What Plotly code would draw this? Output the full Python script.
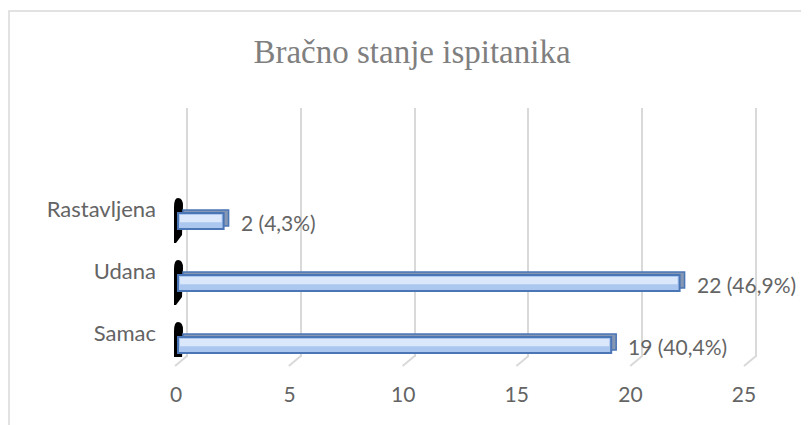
import plotly.graph_objects as go

# ---- data ----
categories = ["Samac", "Udana", "Rastavljena"]
counts = [19, 22, 2]
percents = ["40,4%", "46,9%", "4,3%"]
x_ticks = [0, 5, 10, 15, 20, 25]
title_text = "Bračno stanje ispitanika"

# ---- geometry / style (reference pixel positions) ----
OFF = 8                      # default page body margin
W, H = 809 - OFF, 425 - OFF  # figure size that fits the window
grid_x0_px, grid_px_per = 187, 22.76      # back (gridline) plane
front_x0_px, front_px_per = 176, 22.72    # front plane (tick labels)
bar_x0_px, bar_px_per = 178, 22.8         # bars
plot_top_px, plot_bot_px = 108, 357
row_px = 62
first_row_px = 345
label_shift_px = 11.5

def fx(px):
    return px - OFF

def fy(py):
    return py - OFF

def xrange(x0, per):
    return [-fx(x0) / per, (W - fx(x0)) / per]

plot_h = plot_bot_px - plot_top_px
y_r0 = -(plot_bot_px - first_row_px) / row_px
y_r1 = y_r0 + plot_h / row_px
lab_shift = label_shift_px / row_px

idx = list(range(len(categories)))
bar_w = 16 / row_px
depth_x = 5 / bar_px_per
depth_y = 3 / row_px
ins = 2 / bar_px_per

font_fam = "Lato, 'Open Sans', sans-serif"
txt_col = "#646464"
grid_col = "#d9d9d9"
edge_col = "#4a76b6"

fig = go.Figure()

# back face of 3D bars (gives top and side faces)
fig.add_trace(go.Bar(
    orientation="h", x=counts, y=idx, base=depth_x,
    width=bar_w, offset=-bar_w / 2 + depth_y,
    marker=dict(color="#8597b3", line=dict(color=edge_col, width=1.5)),
    xaxis="x3", yaxis="y", showlegend=False, hoverinfo="skip"))
# front face
fig.add_trace(go.Bar(
    orientation="h", x=counts, y=idx,
    width=bar_w, offset=-bar_w / 2,
    marker=dict(color="#abc7ef", line=dict(color=edge_col, width=2)),
    xaxis="x3", yaxis="y", showlegend=False, hoverinfo="skip"))
# highlight band (gradient look)
fig.add_trace(go.Bar(
    orientation="h", x=[c - 2 * ins for c in counts], y=idx, base=ins,
    width=bar_w * 0.45, offset=-bar_w / 2 + bar_w * 0.42,
    marker=dict(color="#dbe8fb", line=dict(width=0)),
    xaxis="x3", yaxis="y", showlegend=False, hoverinfo="skip"))

# dummy traces so that label axes are drawn
fig.add_trace(go.Scatter(x=[None], y=[None], xaxis="x2", yaxis="y",
                         showlegend=False, hoverinfo="skip"))
fig.add_trace(go.Scatter(x=[None], y=[None], xaxis="x", yaxis="y2",
                         showlegend=False, hoverinfo="skip"))

shapes = []
# outer chart border
shapes.append(dict(type="rect", xref="paper", yref="paper",
                   x0=1 / W, x1=1.05, y0=-0.05, y1=(H - fy(11)) / H,
                   line=dict(color=grid_col, width=1.5), fillcolor="rgba(0,0,0,0)"))
# floor diagonals at gridline bottoms
for t in x_ticks:
    shapes.append(dict(type="line", xref="x", yref="paper",
                       xsizemode="pixel", ysizemode="pixel",
                       xanchor=t, yanchor=(H - fy(plot_bot_px)) / H,
                       x0=0, x1=-12, y0=1, y1=-9,
                       line=dict(color=grid_col, width=2), layer="below"))
# black category-axis marks
for i in idx:
    shapes.append(dict(type="path", xref="x3", yref="y",
                       xsizemode="pixel", ysizemode="pixel",
                       xanchor=0, yanchor=i,
                       path="M 0,23 Q 5,23 5,15 L 4,-14 L -2,-22 L -4,-22 L -4,14 Q -4,23 0,23 Z",
                       fillcolor="black", line=dict(width=0), layer="below"))

annotations = []
for c, p, i in zip(counts, percents, idx):
    annotations.append(dict(xref="x3", yref="y", x=c, y=i,
                            text=f"{c} ({p})", showarrow=False,
                            xanchor="left", yanchor="middle",
                            xshift=15, yshift=-1,
                            font=dict(family=font_fam, size=21, color=txt_col)))

fig.update_layout(
    width=W, height=H, autosize=False,
    margin=dict(l=0, r=0, t=0, b=0),
    paper_bgcolor="white", plot_bgcolor="rgba(0,0,0,0)",
    barmode="overlay",
    title=dict(text=title_text, x=fx(412) / W, xanchor="center",
               y=(H - fy(51)) / H, yanchor="middle",
               font=dict(family="'Liberation Serif', 'Times New Roman', serif",
                         size=33, color="#7f7f7f")),
    xaxis=dict(range=xrange(grid_x0_px, grid_px_per), tickvals=x_ticks,
               showticklabels=False, showgrid=True, gridcolor=grid_col,
               gridwidth=2, zeroline=False, showline=False, ticks="",
               anchor="y", fixedrange=True),
    xaxis2=dict(range=xrange(front_x0_px, front_px_per), tickvals=x_ticks,
                ticktext=[str(t) for t in x_ticks],
                showgrid=False, zeroline=False, showline=False, ticks="",
                overlaying="x", anchor="y", side="bottom",
                ticklabelstandoff=23,
                tickfont=dict(family=font_fam, size=21, color=txt_col)),
    xaxis3=dict(range=xrange(bar_x0_px, bar_px_per), visible=False,
                overlaying="x", anchor="y"),
    yaxis=dict(domain=[(H - fy(plot_bot_px)) / H, (H - fy(plot_top_px)) / H],
               range=[y_r0, y_r1], visible=False, anchor="x"),
    yaxis2=dict(range=[y_r0 - lab_shift, y_r1 - lab_shift],
                tickvals=idx, ticktext=categories,
                overlaying="y", anchor="free", position=fx(156) / W, side="left",
                showgrid=False, zeroline=False, showline=False, ticks="",
                tickfont=dict(family=font_fam, size=22, color=txt_col)),
    shapes=shapes, annotations=annotations,
)

fig.write_html("out.html")
